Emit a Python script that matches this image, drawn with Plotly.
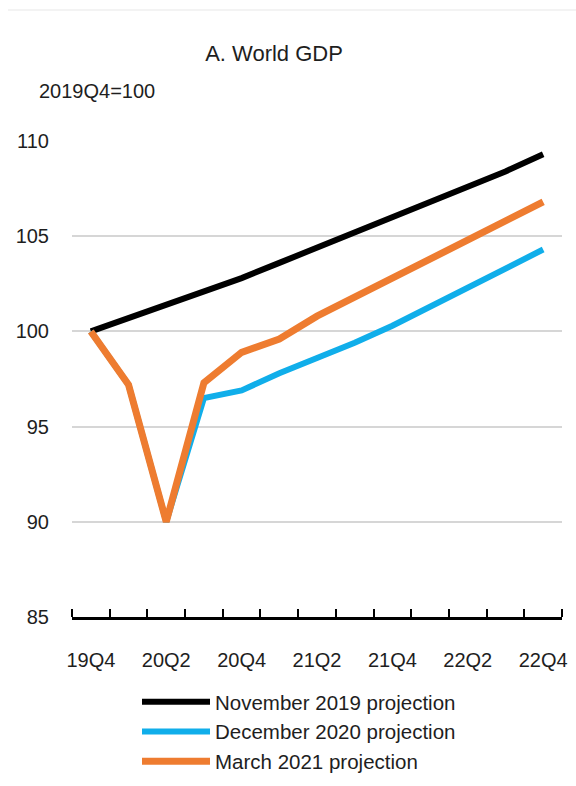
import plotly.graph_objects as go

# Quarterly world GDP paths, index 2019Q4 = 100
quarters = ["19Q4", "20Q1", "20Q2", "20Q3", "20Q4", "21Q1", "21Q2",
            "21Q3", "21Q4", "22Q1", "22Q2", "22Q3", "22Q4"]
nov_2019 = [100.0, 100.7, 101.4, 102.1, 102.8, 103.6, 104.4,
            105.2, 106.0, 106.8, 107.6, 108.4, 109.3]
dec_2020 = [100.0, 97.2, 90.0, 96.5, 96.9, 97.8, 98.6,
            99.4, 100.3, 101.3, 102.3, 103.3, 104.3]
mar_2021 = [100.0, 97.2, 90.0, 97.3, 98.9, 99.6, 100.8,
            101.8, 102.8, 103.8, 104.8, 105.8, 106.8]
series_names = ["November 2019 projection", "December 2020 projection",
                "March 2021 projection"]
y_ticks = [85, 90, 95, 100, 105, 110]
x_label_every = 2

FONT = "Liberation Sans, Arial, sans-serif"
TEXT = "#1e1e1e"
W, H = 576, 786

pos = list(range(len(quarters)))

fig = go.Figure()
for name, vals, color, width in [
    (series_names[0], nov_2019, "#000000", 6),
    (series_names[1], dec_2020, "#10AEEA", 6),
    (series_names[2], mar_2021, "#EE7C30", 7),
]:
    fig.add_trace(go.Scatter(
        x=pos, y=vals, name=name, mode="lines",
        line=dict(color=color, width=width),
    ))

label_pos = pos[::x_label_every]
fig.update_layout(
    width=W, height=H,
    margin=dict(l=72, r=14, t=141, b=169, autoexpand=False),
    paper_bgcolor="white", plot_bgcolor="white",
    font=dict(family=FONT, size=20, color=TEXT),
    title=dict(text="A. World GDP", x=274 / W, xanchor="center",
               xref="container", y=1 - 53 / H, yanchor="middle",
               yref="container", font=dict(family=FONT, size=22, color=TEXT)),
    showlegend=True,
    legend=dict(xref="container", yref="container",
                x=137 / W, xanchor="left", y=1 - 682 / H, yanchor="top",
                font=dict(family=FONT, size=20.5, color=TEXT),
                itemwidth=68, tracegroupgap=0, bgcolor="rgba(0,0,0,0)"),
    xaxis=dict(
        range=[-0.5, len(quarters) - 0.5], automargin=False,
        tickmode="array", tickvals=label_pos,
        ticktext=[quarters[i] for i in label_pos],
        ticks="", ticklabelstandoff=23,
        showgrid=False, zeroline=False,
        showline=True, linecolor="#000000", linewidth=2.5,
        minor=dict(tickmode="linear", tick0=-0.5, dtick=1, ticks="inside",
                   ticklen=8, tickwidth=2, tickcolor="#000000", showgrid=False),
        fixedrange=True,
    ),
    yaxis=dict(
        range=[85, 110], tickmode="array", tickvals=y_ticks, automargin=False,
        showgrid=True, gridcolor="#d6d6d6", gridwidth=2,
        zeroline=False, showline=False, ticks="",
        ticklabelstandoff=22, fixedrange=True,
    ),
    annotations=[dict(
        text="2019Q4=100", xref="paper", yref="paper",
        x=(37 - 72) / 490, y=(617 - 91) / 476, xanchor="left", yanchor="middle",
        showarrow=False, font=dict(family=FONT, size=20, color=TEXT),
    )],
    shapes=[dict(type="line", xref="paper", yref="paper",
                 x0=(8 - 72) / 490, x1=(576 - 72) / 490,
                 y0=(617 - 10) / 476, y1=(617 - 10) / 476,
                 line=dict(color="#efefef", width=1.5))],
)

fig.write_html("out.html")
